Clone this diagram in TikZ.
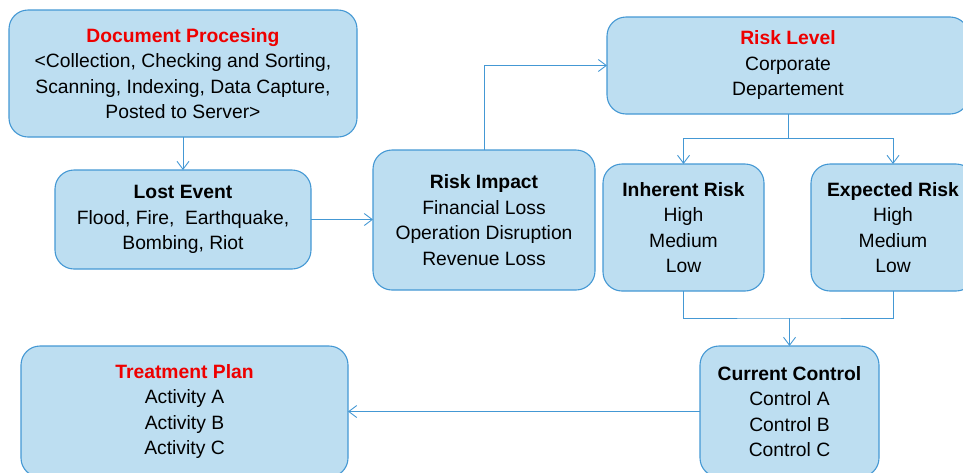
\documentclass[tikz,border=0pt]{standalone}
\usepackage{fontspec}
\setmainfont{Liberation Sans}
\usetikzlibrary{arrows.meta}
\definecolor{boxfill}{RGB}{189,222,241}
\definecolor{boxline}{RGB}{68,152,212}
\definecolor{headred}{RGB}{238,0,0}
\begin{document}
\begin{tikzpicture}[x=1pt,y=-1pt,inner sep=0pt,outer sep=0pt,
	riskbox/.style={draw=boxline,fill=boxfill,rectangle,rounded corners=19pt,line width=1.1pt,align=center,
		font=\fontsize{19.3}{25.5}\selectfont},
	flow/.style={draw=boxline,line width=0.9pt},
	arr/.style={flow,-{Straight Barb[length=8pt,width=12pt,line width=0.9pt]}}]
	\useasboundingbox (0,0) rectangle (963,472);
	\draw (183,73.5) node[riskbox,minimum width=348pt,minimum height=127pt] (doc) {\textbf{\textcolor{headred}{Document Procesing}}\\ <Collection, Checking and Sorting,\\ Scanning, Indexing, Data Capture,\\ Posted to Server>};
	\draw (183,219.5) node[riskbox,minimum width=256pt,minimum height=99pt] (lost) {\textbf{Lost Event}\\ Flood, Fire,\ \ Earthquake,\\ Bombing, Riot};
	\draw (484,220) node[riskbox,minimum width=222pt,minimum height=140pt] (impact) {\textbf{Risk Impact}\\ Financial Loss\\ Operation Disruption\\ Revenue Loss};
	\draw (788,65.5) node[riskbox,minimum width=362pt,minimum height=97pt] (level) {\textbf{\textcolor{headred}{Risk Level}}\\ Corporate\\ Departement};
	\draw (683.5,227.5) node[riskbox,minimum width=161pt,minimum height=127pt] (inherent) {\textbf{Inherent Risk}\\ High\\ Medium\\ Low};
	\draw (893,227.5) node[riskbox,minimum width=164pt,minimum height=127pt] (expected) {\textbf{Expected Risk}\\ High\\ Medium\\ Low};
	\draw (789.5,411.5) node[riskbox,minimum width=179pt,minimum height=131pt] (control) {\textbf{Current Control}\\ Control A\\ Control B\\ Control C};
	\draw (184.5,411.5) node[riskbox,minimum width=327pt,minimum height=131pt] (treat) {\textbf{\textcolor{headred}{Treatment Plan}}\\ Activity A\\ Activity B\\ Activity C};
	\coordinate (split) at (788,138);
	\coordinate (merge) at (789.5,318);
	\draw[arr] (doc) -- (lost);
	\draw[arr] (lost.east) -- (lost.east -| impact.west);
	\draw[arr] (impact.north) |- (level.west);
	\draw[flow] (level.south) -- (split);
	\draw[arr] (split) -| (inherent.north);
	\draw[arr] (split) -| (expected.north);
	\draw[flow] (inherent.south) |- (merge) -| (expected.south);
	\draw[arr] (merge) -- (control.north);
	\draw[arr] (control.west) -- (treat.east);
\end{tikzpicture}
\end{document}
